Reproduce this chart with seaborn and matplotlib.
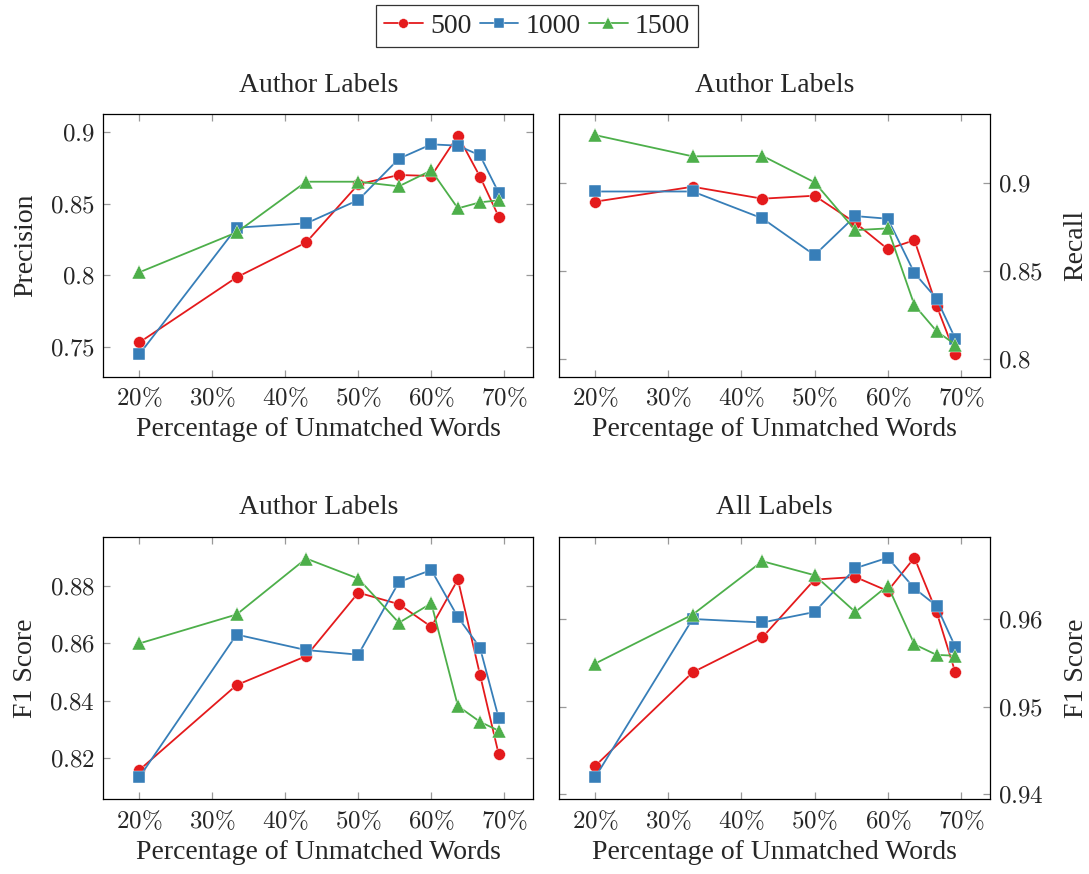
import numpy as np
import pandas as pd
import matplotlib
matplotlib.use("Agg")
import matplotlib.pyplot as plt
import seaborn as sns

# ---- data ----
x_pct = [20, 33.33, 42.86, 50, 55.56, 60, 63.64, 66.67, 69.23]
series_names = ["500", "1000", "1500"]

prec_500 = [0.7532, 0.7987, 0.8231, 0.8637, 0.8702, 0.8695, 0.8977, 0.8690, 0.8411]
prec_1000 = [0.7449, 0.8334, 0.8364, 0.8527, 0.8816, 0.8916, 0.8907, 0.8839, 0.8578]
prec_1500 = [0.8022, 0.8301, 0.8655, 0.8655, 0.8623, 0.8734, 0.8469, 0.8511, 0.8525]

rec_500 = [0.8896, 0.8981, 0.8913, 0.8930, 0.8776, 0.8626, 0.8677, 0.8304, 0.8027]
rec_1000 = [0.8954, 0.8954, 0.8801, 0.8592, 0.8814, 0.8799, 0.8490, 0.8344, 0.8116]
rec_1500 = [0.9275, 0.9154, 0.9157, 0.9006, 0.8734, 0.8744, 0.8307, 0.8159, 0.8083]

f1a_500 = [0.8159, 0.8455, 0.8556, 0.8777, 0.8737, 0.8658, 0.8823, 0.8491, 0.8214]
f1a_1000 = [0.8134, 0.8631, 0.8577, 0.8561, 0.8814, 0.8856, 0.8692, 0.8585, 0.8340]
f1a_1500 = [0.8600, 0.8701, 0.8896, 0.8826, 0.8672, 0.8740, 0.8382, 0.8327, 0.8296]

f1all_500 = [0.9432, 0.9539, 0.9579, 0.9645, 0.9648, 0.9632, 0.9670, 0.9608, 0.9539]
f1all_1000 = [0.9419, 0.9600, 0.9596, 0.9608, 0.9658, 0.9670, 0.9635, 0.9615, 0.9568]
f1all_1500 = [0.9549, 0.9605, 0.9666, 0.9650, 0.9608, 0.9638, 0.9571, 0.9559, 0.9558]

x_ticks = [20, 30, 40, 50, 60, 70]
x_ticklabels = ["20%", "30%", "40%", "50%", "60%", "70%"]

panels = [
    dict(title="Author Labels", ylabel="Precision", side="left",
         vals=[prec_500, prec_1000, prec_1500], ylim=(0.7293, 0.9128),
         yticks=[0.75, 0.8, 0.85, 0.9], ytl=["0.75", "0.8", "0.85", "0.9"]),
    dict(title="Author Labels", ylabel="Recall", side="right",
         vals=[rec_500, rec_1000, rec_1500], ylim=(0.790, 0.9395),
         yticks=[0.8, 0.85, 0.9], ytl=["0.8", "0.85", "0.9"]),
    dict(title="Author Labels", ylabel="F1 Score", side="left",
         vals=[f1a_500, f1a_1000, f1a_1500], ylim=(0.8057, 0.8972),
         yticks=[0.82, 0.84, 0.86, 0.88], ytl=["0.82", "0.84", "0.86", "0.88"]),
    dict(title="All Labels", ylabel="F1 Score", side="right",
         vals=[f1all_500, f1all_1000, f1all_1500], ylim=(0.9394, 0.9694),
         yticks=[0.94, 0.95, 0.96], ytl=["0.94", "0.95", "0.96"]),
]

colors = {"500": "#E41A1C", "1000": "#377EB8", "1500": "#4DAF4A"}
markers = {"500": "o", "1000": "s", "1500": "^"}

sns.set_theme(style="white")
plt.rcParams["font.family"] = ["Liberation Serif", "DejaVu Serif"]
plt.rcParams["mathtext.fontset"] = "cm"

W, H = 1089, 874
fig = plt.figure(figsize=(W / 100, H / 100), dpi=100)

boxes = [(103.3, 114, 533.3, 376.7), (559, 114, 990, 376.7),
         (103.3, 536.7, 533.3, 799.3), (559, 536.7, 990, 799.3)]

LBL = 20
TCK = 18

def m(s):
    return "$" + s.replace("%", r"\%") + "$"

handles = labels = None
for p, (l, t, r, b) in zip(panels, boxes):
    ax = fig.add_axes([l / W, 1 - b / H, (r - l) / W, (b - t) / H])
    rows = []
    for name, v in zip(series_names, p["vals"]):
        for xv, yv in zip(x_pct, v):
            rows.append({"x": xv, "y": yv, "size": name})
    df = pd.DataFrame(rows)
    sns.lineplot(data=df, x="x", y="y", hue="size", style="size",
                 hue_order=series_names, style_order=series_names,
                 palette=colors, markers=markers, dashes=False,
                 markersize=8.5, markeredgewidth=0.3, linewidth=1.3,
                 sort=False, ax=ax)
    for ln in ax.lines:
        if ln.get_marker() == "^":
            ln.set_markersize(10)
    if handles is None:
        handles, labels = ax.get_legend_handles_labels()
    ax.get_legend().remove()
    ax.set_xlim(15.07, 73.97)
    ax.set_ylim(*p["ylim"])
    ax.set_xticks(x_ticks)
    ax.set_xticklabels([m(s) for s in x_ticklabels])
    ax.set_yticks(p["yticks"])
    ax.set_yticklabels([m(s) for s in p["ytl"]])
    ax.set_xlabel("Percentage of Unmatched Words", fontsize=LBL, labelpad=5)
    ax.set_title(p["title"], fontsize=LBL, pad=16)
    for s in ax.spines.values():
        s.set_color("black")
        s.set_linewidth(0.9)
    ax.tick_params(axis="both", which="major", direction="in", length=5,
                   width=0.9, color="#999999", labelsize=TCK,
                   top=True, bottom=True, left=True, right=True)
    ax.tick_params(axis="x", pad=7)
    ax.tick_params(axis="y", pad=6)
    if p["side"] == "right":
        ax.yaxis.tick_right()
        ax.tick_params(axis="y", left=True, right=True, labelleft=False, labelright=True)
        ax.yaxis.set_label_position("right")
        ax.set_ylabel(p["ylabel"], fontsize=LBL, labelpad=14)
    else:
        ax.set_ylabel(p["ylabel"], fontsize=LBL, labelpad=8)
    ax.grid(False)

for h in handles:
    h.set_markersize(8 if h.get_marker() == "^" else 7)
leg = fig.legend(handles, labels, loc="upper center", bbox_to_anchor=(537 / W, 1 - 5 / H),
                 ncol=3, frameon=True, fontsize=LBL, handlelength=1.4,
                 columnspacing=0.3, handletextpad=0.25, borderpad=0.3,
                 borderaxespad=0.0, fancybox=False)
leg.get_frame().set_edgecolor("black")
leg.get_frame().set_linewidth(0.9)

fig.savefig("out.png", dpi=100)
